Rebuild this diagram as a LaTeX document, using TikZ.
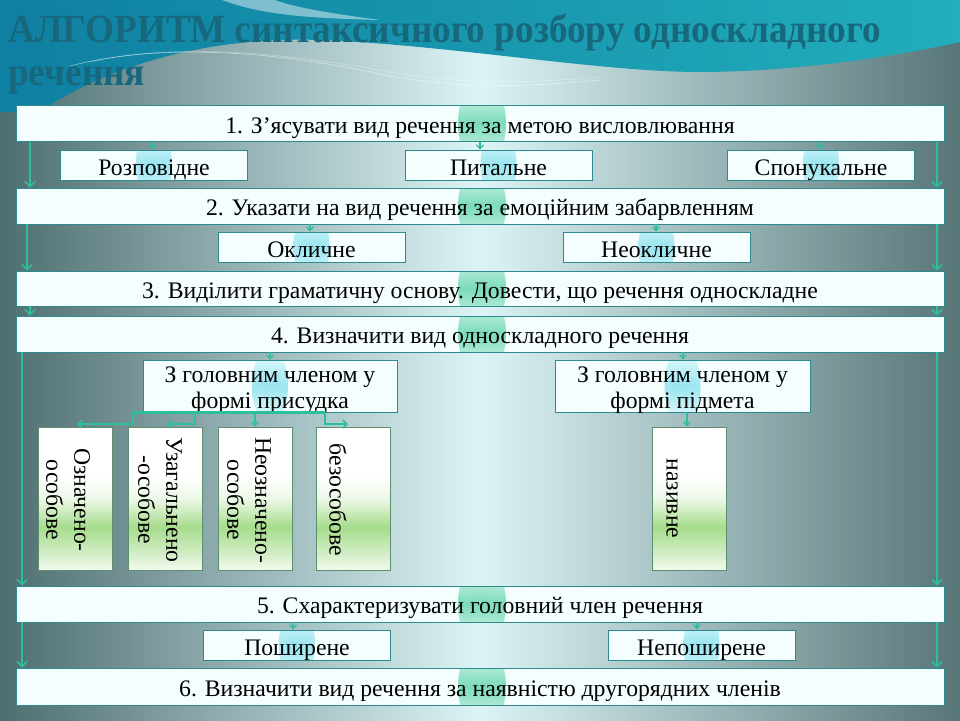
\documentclass[tikz,border=0pt]{standalone}
\usepackage{fontspec}
\setmainfont{Liberation Serif}
\usetikzlibrary{arrows.meta,calc}
\definecolor{conn}{HTML}{2DBF9D}
\definecolor{bord}{HTML}{2E8A8C}
\definecolor{boxfill}{HTML}{F4FEFE}
\definecolor{titlec}{HTML}{17687C}
\definecolor{bgdark}{HTML}{4E6E70}
\definecolor{bglight}{HTML}{DCF4F6}
\definecolor{tealA}{HTML}{0F7FA2}
\definecolor{tealB}{HTML}{22AEBB}
\definecolor{vgreen}{HTML}{A6DC8C}
\definecolor{vbord}{HTML}{5E8E70}
\definecolor{glowA}{HTML}{7ADBB8}
\definecolor{glowB}{HTML}{96E4F0}
\pgfdeclareverticalshading{vgrad}{100bp}{color(0bp)=(white); color(25bp)=(white!85!vgreen); color(30bp)=(white!55!vgreen); color(40bp)=(vgreen); color(50bp)=(white!80!vgreen); color(58bp)=(white); color(100bp)=(white)}
\begin{document}
\begin{tikzpicture}[x=1pt,y=-1pt,
  txt/.style={font=\fontsize{23.7}{26}\selectfont},
  wide/.style={txt, draw=bord, line width=0.8pt, fill=boxfill, minimum width=928pt, inner sep=0pt,
    text height=19pt, text depth=0pt,
    path picture={\shade[inner color=glowA, outer color=boxfill] ([xshift=2]path picture bounding box.center) ellipse [x radius=24, y radius=44];}},
  sub/.style={txt, draw=bord, line width=0.8pt, fill=boxfill, minimum width=187pt, minimum height=30pt, inner sep=0pt,
    text height=20pt, text depth=0pt,
    path picture={\shade[inner color=glowB, outer color=boxfill] ([xshift=#1]path picture bounding box.center) ellipse [x radius=18, y radius=38];}},
  sub/.default=0,
  vbox/.style={draw=vbord, line width=0.8pt, shading=vgrad, minimum width=74pt, minimum height=143pt, inner sep=0pt},
  vtxt/.style={txt, rotate=-90, align=center, inner sep=0pt},
  titlestyle/.style={font=\fontsize{40}{44}\bfseries\selectfont, text=titlec, inner sep=0pt, anchor=base west},
  larr/.style={draw=conn, line width=2.4pt, -{Straight Barb[length=5pt,width=10pt,line width=1.6pt]}},
  sarr/.style={draw=conn, line width=1.5pt, -{Straight Barb[length=4pt,width=7pt,line width=1.2pt]}},
  barr/.style={draw=conn, line width=2.6pt, -{Straight Barb[length=4pt,width=8pt,line width=1.6pt]}},
  bline/.style={draw=conn, line width=2.6pt},
]
\useasboundingbox (0,0) rectangle (960,720);
% background
\shade[left color=bgdark, right color=bgdark!95!white, middle color=bglight] (0,0) rectangle (960,720);
\shade[left color=tealA, right color=tealB] (0,0) -- (960,0) -- (960,42)
  .. controls (880,60) and (780,72) .. (700,72)
  .. controls (600,72) and (450,45) .. (320,40)
  .. controls (200,36) and (100,70) .. (40,112) -- (0,112) -- cycle;
\fill[white, opacity=0.45] (222,0) .. controls (260,14) and (300,18) .. (380,20) .. controls (320,12) and (290,6) .. (275,0) -- cycle;
\draw[white, opacity=0.5, line width=0.6pt] (70,66) .. controls (150,45) and (260,48) .. (380,74) .. controls (450,88) and (520,88) .. (600,80);
\draw[white, opacity=0.35, line width=0.6pt] (90,62) .. controls (170,44) and (270,50) .. (390,72) .. controls (460,84) and (520,84) .. (600,77);
% title
\node[titlestyle] (t1) at (8,42) {\scalebox{0.93}[1]{АЛГОРИТМ синтаксичного розбору односкладного}};
\node[titlestyle] (t2) at (8,85) {\scalebox{0.93}[1]{речення}};
% long boxes
\node[wide, minimum height=36pt] (b1) at (480,123.5) {1. З’ясувати вид речення за метою висловлювання};
\node[wide, minimum height=36pt] (b2) at (480,206) {2. Указати на вид речення за емоційним забарвленням};
\node[wide, minimum height=35pt] (b3) at (480,288.5) {3. Виділити граматичну основу. Довести, що речення односкладне};
\node[wide, minimum height=36pt] (b4) at (480,334) {4. Визначити вид односкладного речення};
\node[wide, minimum height=36pt] (b5) at (480,604) {5. Схарактеризувати головний член речення};
\node[wide, minimum height=37pt] (b6) at (480,686.5) {6. Визначити вид речення за наявністю другорядних членів};
% sub boxes
\node[sub] (s1) at (154,165) {Розповідне};
\node[sub] (s2) at (498.5,165) {Питальне};
\node[sub] (s3) at (821,165) {Спонукальне};
\node[sub] (s4) at (311.5,247) {Окличне};
\node[sub] (s5) at (656.5,247) {Неокличне};
\node[sub] (s6) at (297,645) {Поширене};
\node[sub] (s7) at (701.5,645) {Непоширене};
% big sub boxes
\node[sub, minimum width=254pt, minimum height=52pt] (pr) at (270,386) {};
\node[sub, minimum width=255pt, minimum height=52pt] (pd) at (682.5,386) {};
\node[txt, align=center, anchor=base, inner sep=0pt] (prt) at (270,408) {З головним членом у\\формі присудка};
\node[txt, align=center, anchor=base, inner sep=0pt] (pdt) at (682.5,408) {З головним членом у\\формі підмета};
% vertical boxes
\node[vbox] (v1) at (75,498.5) {};
\node[vbox] (v2) at (165,498.5) {};
\node[vbox] (v3) at (255,498.5) {};
\node[vbox] (v4) at (353,498.5) {};
\node[vbox] (v5) at (689.5,498.5) {};
\node[vtxt, font=\fontsize{23.7}{28}\selectfont] (v1t) at (68,500) {Означено-\\особове};
\node[vtxt, font=\fontsize{23.7}{28}\selectfont] (v2t) at (160,500) {Узагальнено\\-особове};
\node[vtxt, font=\fontsize{23.7}{28}\selectfont] (v3t) at (249,500) {Неозначено-\\особове};
\node[vtxt, text height=13pt, text depth=0pt] (v4t) at (336,500) {безособове};
\node[vtxt, text height=13pt, text depth=0pt] (v5t) at (673,498.5) {називне};
% side coordinates
\coordinate (La) at (30,0);
\coordinate (Lb) at (27,0);
\coordinate (Lc) at (22,0);
\coordinate (Ra) at (937,0);
% long side arrows
\draw[larr] (b1.south -| La) -- (b2.north -| La);
\draw[larr] (b1.south -| Ra) -- (b2.north -| Ra);
\draw[larr] (b2.south -| Lb) -- (b3.north -| Lb);
\draw[larr] (b2.south -| Ra) -- (b3.north -| Ra);
\draw[larr] (b3.south -| La) -- (b4.north -| La);
\draw[larr] (b3.south -| Ra) -- (b4.north -| Ra);
\draw[larr] (b4.south -| Lc) -- (b5.north -| Lc);
\draw[larr] (b4.south -| Ra) -- (b5.north -| Ra);
\draw[larr] (b5.south -| Lc) -- (b6.north -| Lc);
\draw[larr] (b5.south -| Ra) -- (b6.north -| Ra);
% short arrows
\draw[sarr] (b1.south -| 153,0) -- (s1.north -| 153,0);
\draw[sarr] (b1.south -| 480,0) -- (s2.north -| 480,0);
\draw[sarr] (b1.south -| 820,0) -- (s3.north -| 820,0);
\draw[sarr] (b2.south -| 310,0) -- (s4.north -| 310,0);
\draw[sarr] (b2.south -| 656,0) -- (s5.north -| 656,0);
\draw[sarr] (b4.south -| 270,0) -- (pr.north -| 270,0);
\draw[sarr] (b4.south -| 683,0) -- (pd.north -| 683,0);
\draw[sarr] (b5.south -| 293,0) -- (s6.north -| 293,0);
\draw[sarr] (b5.south -| 697,0) -- (s7.north -| 697,0);
\draw[sarr] (pd.south -| 687,0) -- (v5.north -| 687,0);
% branches under the predicate box
\coordinate (e1) at (77,424);
\coordinate (e2) at (167,424);
\coordinate (e4) at (348,424);
\draw[bline] (pr.south -| 133,0) -- (pr.south -| 325,0);
\draw[barr] (pr.south -| 133,0) |- (e1);
\draw[barr] (pr.south -| 195,0) |- (e2);
\draw[sarr] (pr.south -| 255,0) -- (v3.north -| 255,0);
\draw[barr] (pr.south -| 325,0) |- (e4);
\end{tikzpicture}
\end{document}
